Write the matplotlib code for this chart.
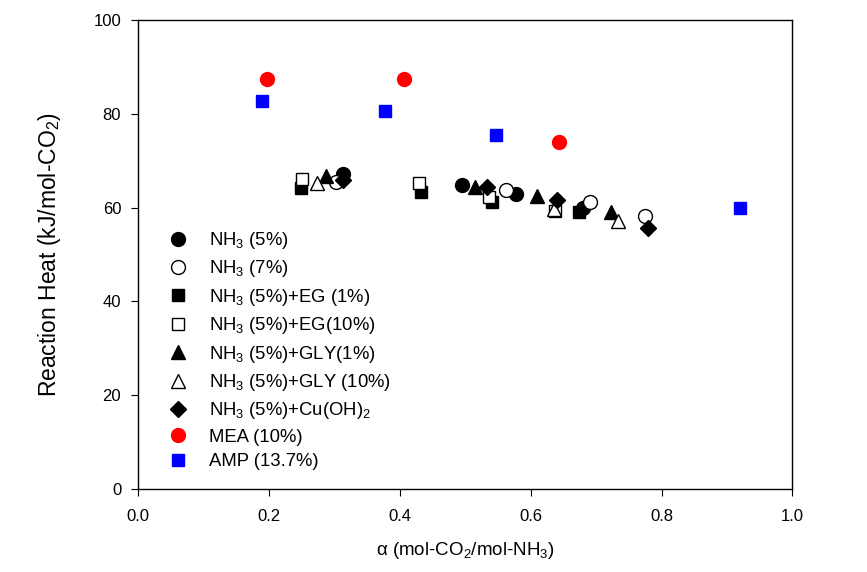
import numpy as np
import matplotlib.pyplot as plt

plt.rcParams['font.family'] = ['Liberation Sans', 'DejaVu Sans']
plt.rcParams['mathtext.fontset'] = 'custom'
plt.rcParams['mathtext.rm'] = 'Liberation Sans'
plt.rcParams['mathtext.it'] = 'Liberation Sans'

# NH3 (5%)
nh3_5_x = [0.314, 0.495, 0.577, 0.680]
nh3_5_y = [67.2, 64.8, 63.0, 60.0]
# NH3 (7%)
nh3_7_x = [0.303, 0.562, 0.690, 0.774]
nh3_7_y = [65.5, 63.8, 61.3, 58.2]
# NH3 (5%)+EG (1%)
eg1_x = [0.250, 0.433, 0.541, 0.674]
eg1_y = [64.1, 63.4, 61.3, 59.1]
# NH3 (5%)+EG(10%)
eg10_x = [0.251, 0.429, 0.536, 0.638]
eg10_y = [66.2, 65.2, 62.3, 59.3]
# NH3 (5%)+GLY(1%)
gly1_x = [0.288, 0.515, 0.610, 0.723]
gly1_y = [66.7, 64.5, 62.5, 59.1]
# NH3 (5%)+GLY (10%)
gly10_x = [0.273, 0.636, 0.734]
gly10_y = [65.3, 59.8, 57.2]
# NH3 (5%)+Cu(OH)2
cu_x = [0.313, 0.533, 0.641, 0.780]
cu_y = [65.9, 64.3, 61.6, 55.6]
# MEA (10%)
mea_x = [0.197, 0.406, 0.643]
mea_y = [87.5, 87.4, 74.1]
# AMP (13.7%)
amp_x = [0.189, 0.378, 0.547, 0.920]
amp_y = [82.8, 80.7, 75.5, 60.0]

fig = plt.figure(figsize=(8.67, 5.72), dpi=100)
ax = fig.add_axes([0.159, 0.145, 0.755, 0.82])

ax.plot(nh3_5_x, nh3_5_y, 'o', color='black', ms=10, ls='none', label='NH$_3$ (5%)')
ax.plot(nh3_7_x, nh3_7_y, 'o', mfc='white', mec='black', mew=1.0, ms=10, ls='none', label='NH$_3$ (7%)')
ax.plot(eg1_x, eg1_y, 's', color='black', ms=8.5, ls='none', label='NH$_3$ (5%)+EG (1%)')
ax.plot(eg10_x, eg10_y, 's', mfc='white', mec='black', mew=1.0, ms=8.5, ls='none', label='NH$_3$ (5%)+EG(10%)')
ax.plot(gly1_x, gly1_y, '^', color='black', ms=10, ls='none', label='NH$_3$ (5%)+GLY(1%)')
ax.plot(gly10_x, gly10_y, '^', mfc='white', mec='black', mew=1.0, ms=10, ls='none', label='NH$_3$ (5%)+GLY (10%)')
ax.plot(cu_x, cu_y, 'D', color='black', ms=8.5, ls='none', label='NH$_3$ (5%)+Cu(OH)$_2$')
ax.plot(mea_x, mea_y, 'o', color='#ff0000', ms=10, ls='none', label='MEA (10%)')
ax.plot(amp_x, amp_y, 's', color='#0000ff', ms=8.5, ls='none', label='AMP (13.7%)')

ax.set_xlim(0, 1.0)
ax.set_ylim(0, 100)
ax.set_xticks(np.arange(0, 1.01, 0.2))
ax.set_xticklabels(['0.0', '0.2', '0.4', '0.6', '0.8', '1.0'])
ax.set_yticks(np.arange(0, 101, 20))
ax.tick_params(direction='out', length=5, labelsize=12, top=False, right=False)
ax.tick_params(axis='x', pad=9)
ax.tick_params(axis='y', pad=7)
for s in ax.spines.values():
    s.set_linewidth(1.0)

ax.set_xlabel('\u03b1 (mol-CO$_2$/mol-NH$_3$)', fontsize=13.5, labelpad=12)
ax.set_ylabel('Reaction Heat (kJ/mol-CO$_2$)', fontsize=16.5, labelpad=22)

ax.legend(loc='upper left', bbox_to_anchor=(0.027, 0.568), frameon=False,
          fontsize=13.3, labelspacing=0.4, handletextpad=0.9, handlelength=1.6,
          numpoints=1, borderaxespad=0)

fig.savefig('out.png', dpi=100)
